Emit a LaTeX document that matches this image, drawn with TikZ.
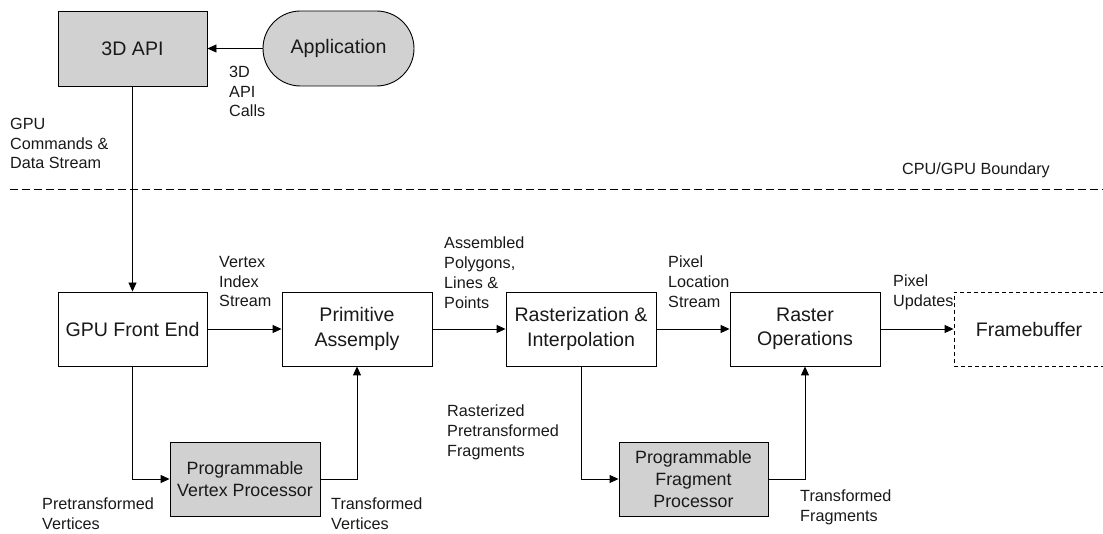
\documentclass[tikz,border=0pt]{standalone}
\usepackage{fontspec}
\setmainfont{Liberation Sans}
\usetikzlibrary{arrows.meta}
\begin{document}
\begin{tikzpicture}[x=1pt,y=-1pt,
  every node/.style={text=black!90},
  block/.style={draw=black, line width=0.9pt, minimum height=74pt, inner sep=0pt,
    align=center, font=\fontsize{19.6}{24.5}\selectfont},
  unit/.style={block, fill=black!18, font=\fontsize{17.8}{22.5}\selectfont},
  lbl/.style={anchor=north west, inner sep=0pt, align=left,
    font=\fontsize{16.2}{19.7}\selectfont},
  flow/.style={draw=black, line width=0.9pt, -{Triangle[length=9pt,width=8pt]}}
]
\useasboundingbox (0,0) rectangle (1103,534);

% CPU side
\node[block, fill=black!18, minimum width=149pt, minimum height=75pt] (api) at (132.5,48.5) {3D API};
\node[block, fill=black!18, minimum width=151pt, minimum height=75pt, rounded corners=37.5pt] (app) at (338.5,48.5) {Application};

% CPU/GPU boundary
\coordinate (bl) at (10,189);
\coordinate (br) at (1104,189);
\draw[line width=0.9pt, dash pattern=on 8pt off 4pt] (bl) -- (br);
\node[lbl] (bnd) at (902,163) {CPU/GPU Boundary};

% GPU pipeline
\node[block, minimum width=149pt] (fe) at (132.5,329) {GPU Front End};
\node[block, minimum width=150pt] (pa) at (357,329) {Primitive\\Assemply};
\node[block, minimum width=150pt] (ri) at (581,329) {Rasterization \&\\Interpolation};
\node[block, minimum width=150pt] (ro) at (805,329) {Raster\\Operations};
\node[block, minimum width=150pt, dash pattern=on 4pt off 3pt] (fb) at (1029,329) {Framebuffer};
\node[unit, minimum width=150pt] (pvp) at (245,479) {Programmable\\Vertex Processor};
\node[unit, minimum width=149pt, font=\fontsize{17.8}{22}\selectfont] (pfp) at (693.5,479) {Programmable\\Fragment\\Processor};

% connectors
\draw[flow] (app.west) -- (api.east);
\draw[flow] (api.south) -- (fe.north);
\draw[flow] (fe.east) -- (pa.west);
\draw[flow] (pa.east) -- (ri.west);
\draw[flow] (ri.east) -- (ro.west);
\draw[flow] (ro.east) -- (fb.west);
\draw[flow] (fe.south) |- (pvp.west);
\draw[flow] (pvp.east) -| (pa.south);
\draw[flow] (ri.south) |- (pfp.west);
\draw[flow] (pfp.east) -| (ro.south);

% labels
\node[lbl] (l1) at (229,66) {3D\\API\\Calls};
\node[lbl] (l2) at (10,118) {GPU\\Commands \&\\Data Stream};
\node[lbl] (l3) at (219,256) {Vertex\\Index\\Stream};
\node[lbl] (l4) at (444,237) {Assembled\\Polygons,\\Lines \&\\Points};
\node[lbl] (l5) at (668,256) {Pixel\\Location\\Stream};
\node[lbl] (l6) at (893,275) {Pixel\\Updates};
\node[lbl] (l7) at (42,498) {Pretransformed\\Vertices};
\node[lbl] (l8) at (331,498) {Transformed\\Vertices};
\node[lbl] (l9) at (447,405) {Rasterized\\Pretransformed\\Fragments};
\node[lbl] (l10) at (800,490) {Transformed\\Fragments};
\end{tikzpicture}
\end{document}
